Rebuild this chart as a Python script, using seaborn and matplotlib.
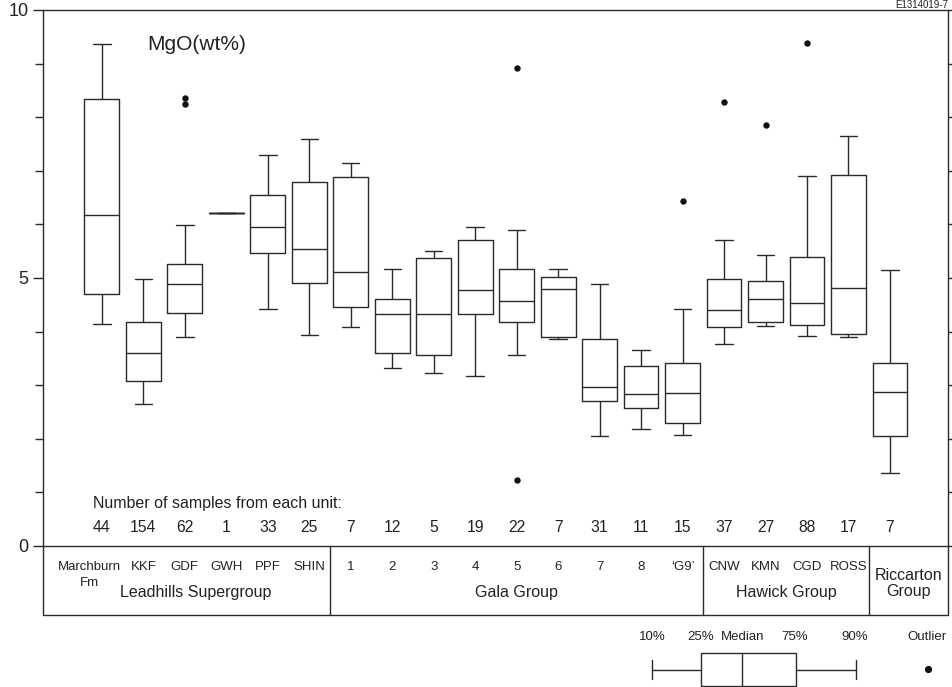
import numpy as np
import pandas as pd
import matplotlib
matplotlib.use("Agg")
import matplotlib.pyplot as plt
import seaborn as sns

# ---------------- data ----------------
unit_keys = ["Marchburn Fm", "KKF", "GDF", "GWH", "PPF", "SHIN",
             "Gala 1", "Gala 2", "Gala 3", "Gala 4", "Gala 5", "Gala 6", "Gala 7", "Gala 8", "Gala G9",
             "CNW", "KMN", "CGD", "ROSS", "Riccarton"]
unit_labels = ["Marchburn", "KKF", "GDF", "GWH", "PPF", "SHIN",
               "1", "2", "3", "4", "5", "6", "7", "8", "\u2018G9\u2019",
               "CNW", "KMN", "CGD", "ROSS", ""]
counts = [44, 154, 62, 1, 33, 25, 7, 12, 5, 19, 22, 7, 31, 11, 15, 37, 27, 88, 17, 7]

p10 = [4.15, 2.64, 3.90, 6.21, 4.42, 3.94, 4.09, 3.32, 3.22, 3.17, 3.56, 3.86, 2.06, 2.18, 2.07, 3.76, 4.11, 3.91, 3.90, 1.36]
p25 = [4.70, 3.07, 4.35, 6.21, 5.47, 4.91, 4.46, 3.61, 3.56, 4.33, 4.18, 3.89, 2.70, 2.57, 2.30, 4.09, 4.17, 4.12, 3.96, 2.05]
p50 = [6.18, 3.61, 4.88, 6.21, 5.96, 5.54, 5.11, 4.33, 4.33, 4.78, 4.58, 4.79, 2.97, 2.84, 2.85, 4.41, 4.60, 4.54, 4.81, 2.87]
p75 = [8.34, 4.17, 5.27, 6.21, 6.54, 6.79, 6.88, 4.61, 5.38, 5.70, 5.17, 5.02, 3.87, 3.35, 3.41, 4.99, 4.94, 5.39, 6.93, 3.41]
p90 = [9.37, 4.99, 5.99, 6.21, 7.30, 7.59, 7.15, 5.17, 5.50, 5.95, 5.90, 5.17, 4.88, 3.66, 4.43, 5.71, 5.42, 6.90, 7.65, 5.15]

out_units = ["GDF", "GDF", "Gala 5", "Gala 5", "Gala G9", "CNW", "KMN", "CGD"]
out_values = [8.35, 8.24, 8.92, 1.24, 6.44, 8.29, 7.85, 9.38]

groups = ["Leadhills Supergroup", "Gala Group", "Hawick Group", "Riccarton\nGroup"]
group_bounds = [5.5, 14.5, 18.5]

# ---------------- style ----------------
sns.set_style("ticks")
plt.rcParams["font.family"] = ["Liberation Sans", "DejaVu Sans"]
LC = "#2a2a2a"
TC = "#222222"
LW = 1.0
plt.rcParams["axes.edgecolor"] = LC
plt.rcParams["axes.linewidth"] = LW

fig = plt.figure(figsize=(9.52, 6.87), dpi=100)
W, H = 952, 687
ax = fig.add_axes([43 / W, 1 - 546 / H, (948 - 43) / W, 536 / H])

# long-form table of the five summary percentiles for each unit
rows = []
for k, a, b, c, d, e in zip(unit_keys, p10, p25, p50, p75, p90):
    for v in (a, b, c, d, e):
        rows.append((k, v))
df = pd.DataFrame(rows, columns=["unit", "value"])
dfo = pd.DataFrame({"unit": out_units, "value": out_values})

sns.boxplot(data=df, x="unit", y="value", order=unit_keys, whis=(0, 100),
            width=0.84, fill=False, color=LC, linewidth=LW, ax=ax)
sns.stripplot(data=dfo, x="unit", y="value", order=unit_keys, jitter=False,
              color="#111111", size=4.6, ax=ax, zorder=5)

XMIN, XMAX = -1.42, 20.40
ax.set_xlim(XMIN, XMAX)
ax.set_ylim(0, 10)
ax.set_xlabel("")
ax.set_ylabel("")
ax.set_xticks([])
ax.set_yticks([0, 5, 10])
ax.set_yticks([1, 2, 3, 4, 6, 7, 8, 9], minor=True)
ax.tick_params(axis="y", which="major", left=True, right=True, direction="out",
               length=7.5, width=LW, color=LC, labelsize=13, labelcolor=TC, pad=3)
ax.tick_params(axis="y", which="minor", left=True, right=True, direction="out",
               length=5.8, width=LW, color=LC)
for s in ax.spines.values():
    s.set_visible(True)
    s.set_color(LC)
    s.set_linewidth(LW)

ax.text(1.085, 9.35, "MgO(wt%)", fontsize=15, ha="left", va="center", color=TC)

# ---------------- sample counts ----------------
tr = ax.get_xaxis_transform()
ax.text(-0.217, 0.0797, "Number of samples from each unit:", transform=tr,
        fontsize=11.5, ha="left", va="center", color=TC)
for i, n in enumerate(counts):
    ax.text(i, 0.0354, str(n), transform=tr, fontsize=11.3, ha="center", va="center", color=TC)

# ---------------- unit / group table below the axis ----------------
tb = -(615 - 546) / 536
ax.plot([XMIN, XMAX], [tb, tb], transform=tr, color=LC, lw=LW, clip_on=False)
for xb in [XMIN, XMAX] + group_bounds:
    ax.plot([xb, xb], [0, tb], transform=tr, color=LC, lw=LW, clip_on=False)

row1 = -(567 - 546) / 536
for i, lab in enumerate(unit_labels):
    if not lab:
        continue
    xi = -0.30 if i == 0 else i
    ax.text(xi, row1, lab, transform=tr, fontsize=9.5, ha="center", va="center", color=TC)
ax.text(-0.30, -(583 - 546) / 536, "Fm", transform=tr, fontsize=9.5, ha="center", va="center", color=TC)

grow = -(592.5 - 546) / 536
ax.text(2.27, grow, groups[0], transform=tr, fontsize=11.5, ha="center", va="center", color=TC)
ax.text((group_bounds[0] + group_bounds[1]) / 2, grow, groups[1], transform=tr,
        fontsize=11.5, ha="center", va="center", color=TC)
ax.text((group_bounds[1] + group_bounds[2]) / 2, grow, groups[2], transform=tr,
        fontsize=11.5, ha="center", va="center", color=TC)
ax.text((group_bounds[2] + XMAX) / 2, -(583.5 - 546) / 536, groups[3], transform=tr,
        fontsize=11.5, ha="center", va="center", linespacing=1.05, color=TC)

# ---------------- key (pixel coordinates overlay) ----------------
ov = fig.add_axes([0, 0, 1, 1], zorder=-1)
ov.set_xlim(0, W)
ov.set_ylim(H, 0)
ov.axis("off")
key_labels = ["10%", "25%", "Median", "75%", "90%", "Outlier"]
key_x = [652, 701, 743, 795, 855, 927]
for lx, lt in zip(key_x, key_labels):
    ov.text(lx, 637, lt, fontsize=9.5, ha="center", va="center", color=TC)
ov.add_patch(plt.Rectangle((700.7, 652.7), 796 - 700.7, 686 - 652.7, fill=False, ec=LC, lw=LW))
ov.plot([742, 742], [652.7, 686], color=LC, lw=LW)
ov.plot([651.7, 700.7], [669.5, 669.5], color=LC, lw=LW)
ov.plot([796, 856], [669.5, 669.5], color=LC, lw=LW)
ov.plot([651.7, 651.7], [660, 679], color=LC, lw=LW)
ov.plot([856, 856], [660, 679], color=LC, lw=LW)
ov.plot([928], [669], "o", color="#111111", ms=4.2)

fig.text(948 / W, 1 - 5 / H, "E1314019-7", fontsize=7, ha="right", va="center", color=TC)

fig.savefig("out.png", dpi=100)
